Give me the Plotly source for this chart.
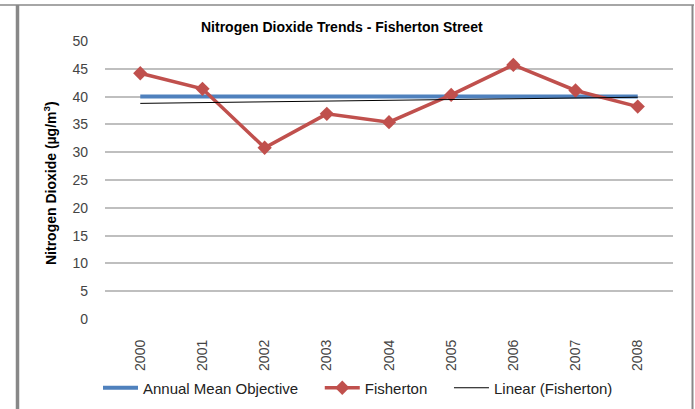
import numpy as np
import plotly.graph_objects as go

years = ["2000", "2001", "2002", "2003", "2004", "2005", "2006", "2007", "2008"]
objective = [40, 40, 40, 40, 40, 40, 40, 40, 40]
fisherton = [44.2, 41.4, 30.8, 36.9, 35.4, 40.3, 45.7, 41.1, 38.2]
series_names = ["Annual Mean Objective", "Fisherton", "Linear (Fisherton)"]

# Linear trendline computed from the Fisherton series
idx = np.arange(len(years))
slope, intercept = np.polyfit(idx, fisherton, 1)
trend = list(slope * idx + intercept)

W, H = 695, 409
L, R, T, B = 105, 22, 41, 90
pw, ph = W - L - R, H - T - B

def px(x):
    return (x - L) / pw

def py(y):
    return (H - B - y) / ph

fig = go.Figure()
fig.add_trace(go.Scatter(x=years, y=objective, mode="lines", name=series_names[0] + "\u00a0" * 4,
                         line=dict(color="#4F81BD", width=4)))
fig.add_trace(go.Scatter(x=years, y=fisherton, mode="lines+markers", name=series_names[1] + "\u00a0" * 4,
                         line=dict(color="#C0504D", width=3.5),
                         marker=dict(symbol="diamond", size=11, color="#C0504D")))
fig.add_trace(go.Scatter(x=years, y=trend, mode="lines", name=series_names[2],
                         line=dict(color="#000000", width=1)))

font = "Liberation Sans, Arial, sans-serif"
fig.update_layout(
    width=W, height=H,
    margin=dict(l=L, r=R, t=T, b=B, pad=0, autoexpand=False),
    paper_bgcolor="white", plot_bgcolor="white",
    font=dict(family=font, size=14, color="#333333"),
    showlegend=True,
    legend=dict(orientation="h", x=px(98), y=py(388), xanchor="left", yanchor="middle",
                font=dict(family=font, size=15, color="#222222"),
                itemwidth=35, bgcolor="rgba(0,0,0,0)", traceorder="normal"),
    xaxis=dict(type="category", showgrid=False, zeroline=False, showline=False,
               tickangle=-90, ticks="", ticklabelstandoff=17,
               tickfont=dict(family=font, size=14, color="#444444")),
    yaxis=dict(range=[0, 50], dtick=5, showgrid=True, gridcolor="#BFBFBF", gridwidth=1.5,
               zeroline=False, showline=False, ticks="", ticklabelstandoff=16,
               tickfont=dict(family=font, size=14, color="#444444")),
    annotations=[
        dict(text="<b>Nitrogen Dioxide Trends - Fisherton Street</b>", xref="paper", yref="paper",
             x=px(342), y=py(27), xanchor="center", yanchor="middle", showarrow=False,
             font=dict(family=font, size=14, color="#000000")),
        dict(text="<b>Nitrogen Dioxide (µg/m<sup>3</sup>)</b>", xref="paper", yref="paper",
             x=px(50), y=py(183), xanchor="center", yanchor="middle", showarrow=False,
             textangle=-90, font=dict(family=font, size=14, color="#000000")),
    ],
    shapes=[
        dict(type="line", xref="paper", yref="paper", x0=px(0), x1=px(694), y0=py(5), y1=py(5),
             line=dict(color="#888888", width=1.5)),
        dict(type="line", xref="paper", yref="paper", x0=px(17.5), x1=px(17.5), y0=py(5), y1=py(409),
             line=dict(color="#888888", width=3.5)),
        dict(type="line", xref="paper", yref="paper", x0=px(692.5), x1=px(692.5), y0=py(5), y1=py(409),
             line=dict(color="#888888", width=2)),
    ],
)

fig.write_html("out.html", config={"displayModeBar": False},
               post_script="document.body.style.margin='0';document.body.style.overflow='hidden';")
